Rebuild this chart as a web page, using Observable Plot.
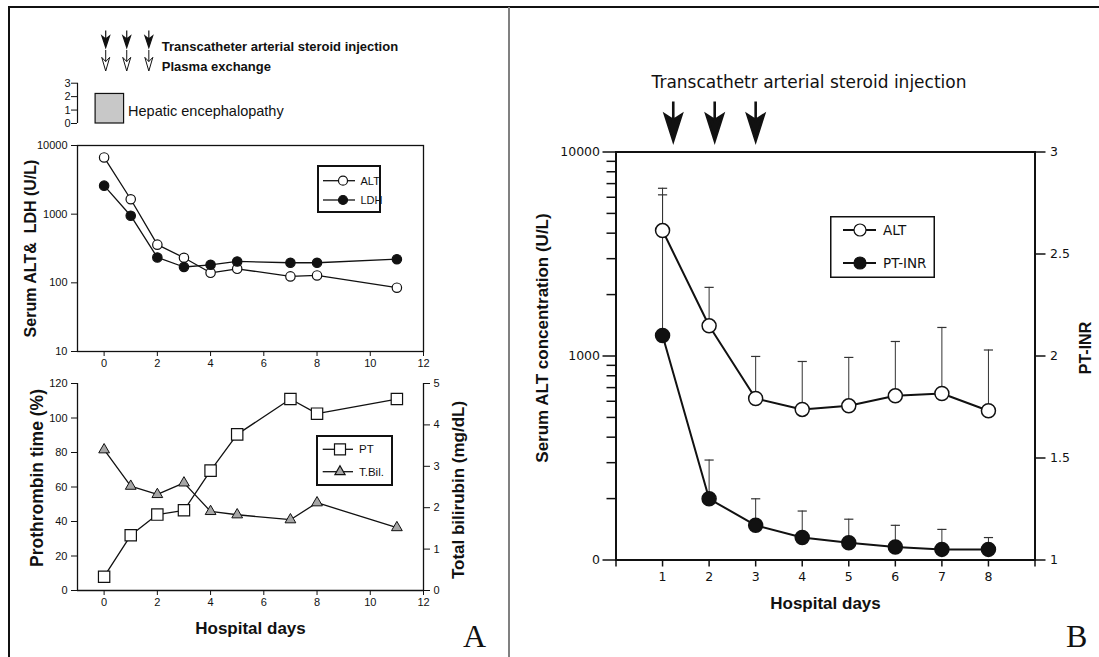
<!DOCTYPE html>
<html><head><meta charset="utf-8">
<script src="https://cdn.jsdelivr.net/npm/d3@7"></script>
<script src="https://cdn.jsdelivr.net/npm/@observablehq/plot@0.6"></script>
<style>
body{margin:0;background:#fff;}
#fig{position:relative;width:1099px;height:657px;overflow:hidden;background:#fff;font-family:"Liberation Sans",Arial,sans-serif;color:#111;}
.letter{position:absolute;font-family:"Liberation Serif","Times New Roman",serif;font-size:32px;line-height:1;color:#111;}
</style></head>
<body><div id="fig"></div>
<script>
// ---------------- DATA ----------------
// Panel A
const daysA = [0, 1, 2, 3, 4, 5, 7, 8, 11];
const altA  = [6700, 1650, 360, 232, 140, 160, 124, 128, 85];
const ldhA  = [2600, 950, 234, 170, 183, 205, 196, 196, 221];
const ptA   = [8, 32, 44, 46.5, 69.5, 90.5, 111, 102.5, 111];
const tbilA = [3.4, 2.52, 2.32, 2.6, 1.91, 1.83, 1.71, 2.12, 1.52];
const xDomainA = [-1, 12];
const xTicksA = [0, 2, 4, 6, 8, 10, 12];
const altTicksA = [10, 100, 1000, 10000];
const ptTicks = [0, 20, 40, 60, 80, 100, 120];
const tbilTicks = [0, 1, 2, 3, 4, 5];
const heGradeTicks = [0, 1, 2, 3];
const heStart = [-0.32], heEnd = [0.75], heGrade = [2.2];
const tasiDaysA = [0.06, 0.85, 1.68];
const plasmaDaysA = [0.06, 0.85, 1.68];
// Panel B
const daysB    = [1, 2, 3, 4, 5, 6, 7, 8];
const altB     = [4120, 1406, 619, 547, 570, 638, 655, 539];
const altTopB  = [6640, 2170, 995, 940, 984, 1178, 1380, 1070];
const inrB     = [2.10, 1.30, 1.17, 1.11, 1.085, 1.064, 1.052, 1.052];
const inrTopB  = [2.79, 1.49, 1.30, 1.24, 1.20, 1.17, 1.15, 1.11];
const xDomainB = [0, 9];
const xTicksB = [0, 1, 2, 3, 4, 5, 6, 7, 8, 9];
const altMajorB = [100, 1000, 10000];
const altMajorLabelsB = ["0", "1000", "10000"];
const altMinorB = [200, 300, 400, 500, 600, 700, 800, 900, 2000, 3000, 4000, 5000, 6000, 7000, 8000, 9000];
const inrTicksB = [1, 1.5, 2, 2.5, 3];
const tasiDaysB = [1.23, 2.12, 3.0];

// ---------------- HELPERS ----------------
const fig = document.getElementById("fig");
function put(el, left, top) {
  el.style.position = "absolute"; el.style.left = left + "px"; el.style.top = top + "px";
  fig.appendChild(el); return el;
}
const ink = "#111";
function arrowSymbol({headW, headTop, notch, shaftEnd}) {
  return {draw(ctx, size) {
    const r = Math.sqrt(size / Math.PI);
    ctx.moveTo(0, -r); ctx.lineTo(0, shaftEnd * r);
    ctx.moveTo(0, r);
    ctx.lineTo(-headW * r, headTop * r);
    ctx.lineTo(0, notch * r);
    ctx.lineTo(headW * r, headTop * r);
    ctx.closePath();
  }};
}
const solidArrowA = arrowSymbol({headW: 0.45, headTop: -0.35, notch: 0.0, shaftEnd: 0.1});
const openArrowA  = arrowSymbol({headW: 0.38, headTop: -0.3, notch: 0.1, shaftEnd: 0.1});
const solidArrowB = arrowSymbol({headW: 0.42, headTop: -0.32, notch: -0.05, shaftEnd: 0.1});
const capSymbol = {draw(ctx, size) { const r = Math.sqrt(size / Math.PI); ctx.moveTo(-r, 0); ctx.lineTo(r, 0); }};

function legend({width, height, rows, x1, x2, mx, tx, fontSize, fontFamily, border}) {
  const svg = d3.create("svg").attr("width", width).attr("height", height).style("overflow", "visible");
  svg.append("rect").attr("x", border / 2).attr("y", border / 2)
    .attr("width", width - border).attr("height", height - border)
    .attr("fill", "white").attr("stroke", ink).attr("stroke-width", border);
  for (const row of rows) {
    const g = svg.append("g").attr("transform", `translate(0,${row.y})`);
    g.append("line").attr("x1", x1).attr("x2", x2).attr("stroke", ink).attr("stroke-width", row.sw);
    g.append("path").attr("transform", `translate(${mx},0)`)
      .attr("d", d3.symbol(row.symbol, row.size)()).attr("fill", row.fill)
      .attr("stroke", ink).attr("stroke-width", 1.2);
    g.append("text").attr("x", tx).attr("dy", "0.36em").attr("font-size", fontSize)
      .attr("font-family", fontFamily).attr("fill", ink).text(row.label);
  }
  return svg.node();
}

const styleA = {fontFamily: '"Liberation Sans", Arial, sans-serif', fontSize: "11px", color: ink, background: "transparent", overflow: "visible"};
const styleB = {fontFamily: '"DejaVu Sans", "Liberation Sans", sans-serif', fontSize: "12.5px", color: ink, background: "transparent", overflow: "visible"};
const boldFont = '"Liberation Sans", Arial, sans-serif';

// ---------------- PANEL A: annotations + hepatic encephalopathy ----------------
const heRows = heStart.map((s, i) => ({start: s, end: heEnd[i], grade: heGrade[i]}));
const chartHE = Plot.plot({
  width: 508, height: 130, marginLeft: 77, marginRight: 85, marginTop: 4, marginBottom: 7,
  x: {domain: xDomainA, axis: null}, y: {domain: [0, 8.86]},
  style: styleA,
  marks: [
    Plot.ruleX([xDomainA[0]], {y1: heGradeTicks[0], y2: heGradeTicks[heGradeTicks.length - 1], stroke: ink, strokeWidth: 1.2}),
    Plot.axisY({ticks: heGradeTicks, tickSize: 6, tickPadding: 1, label: null, fontSize: 11}),
    Plot.rect(heRows, {x1: "start", x2: "end", y1: 0, y2: "grade", fill: "#c8c8c8", stroke: ink, strokeWidth: 1.2}),
    Plot.text(heRows, {x: "end", frameAnchor: "bottom", dy: -8, dx: 4, text: () => "Hepatic encephalopathy", textAnchor: "start", fontSize: 14.5}),
    Plot.dot(tasiDaysA, {x: d => d, frameAnchor: "top", dy: 34.5, symbol: solidArrowA, r: 8.5, fill: ink, stroke: ink, strokeWidth: 1.2}),
    Plot.dot(plasmaDaysA, {x: d => d, frameAnchor: "top", dy: 56, symbol: openArrowA, r: 10.5, fill: "white", stroke: ink, strokeWidth: 1}),
    Plot.text(["Transcatheter arterial steroid injection"], {x: () => tasiDaysA[tasiDaysA.length - 1], frameAnchor: "top", dy: 37, dx: 13, textAnchor: "start", fontWeight: "bold", fontSize: 13}),
    Plot.text(["Plasma exchange"], {x: () => plasmaDaysA[plasmaDaysA.length - 1], frameAnchor: "top", dy: 57, dx: 13, textAnchor: "start", fontWeight: "bold", fontSize: 13})
  ]
});
put(chartHE, 0, 0);

// ---------------- PANEL A: ALT & LDH ----------------
const tableA = daysA.map((d, i) => ({day: d, alt: altA[i], ldh: ldhA[i], pt: ptA[i], tbil: tbilA[i]}));
const chartA1 = Plot.plot({
  width: 508, height: 262, marginLeft: 77, marginRight: 85, marginTop: 25, marginBottom: 31,
  x: {domain: xDomainA}, y: {type: "log", domain: [altTicksA[0], altTicksA[altTicksA.length - 1]]},
  style: styleA,
  marks: [
    Plot.frame({stroke: ink, strokeWidth: 1.3}),
    Plot.axisY({ticks: altTicksA, tickFormat: d => String(d), tickSize: 6, tickPadding: 4, label: null}),
    Plot.axisX({ticks: xTicksA, tickSize: 5, tickPadding: 3, label: null}),
    Plot.text(["Serum ALT&\u00a0 LDH (U/L)"], {frameAnchor: "left", dx: -47, rotate: -90, textAnchor: "middle", lineAnchor: "middle", fontWeight: "bold", fontSize: 16, fontFamily: boldFont}),
    Plot.line(tableA, {x: "day", y: "alt", stroke: ink, strokeWidth: 1.3}),
    Plot.line(tableA, {x: "day", y: "ldh", stroke: ink, strokeWidth: 1.3}),
    Plot.dot(tableA, {x: "day", y: "alt", r: 4.7, fill: "white", stroke: ink, strokeWidth: 1.2}),
    Plot.dot(tableA, {x: "day", y: "ldh", r: 4.7, fill: ink, stroke: ink, strokeWidth: 1.2})
  ]
});
put(chartA1, 0, 120);

// ---------------- PANEL A: PT & T.Bil ----------------
const k = ptTicks[ptTicks.length - 1] / tbilTicks[tbilTicks.length - 1];
const chartA2 = Plot.plot({
  width: 508, height: 287, marginLeft: 77, marginRight: 85, marginTop: 13, marginBottom: 67,
  x: {domain: xDomainA}, y: {domain: [ptTicks[0], ptTicks[ptTicks.length - 1]]},
  style: styleA,
  marks: [
    Plot.ruleX(xDomainA, {stroke: ink, strokeWidth: 1.3}),
    Plot.ruleY([ptTicks[0]], {stroke: ink, strokeWidth: 1.3}),
    Plot.axisY({ticks: ptTicks, tickSize: 6, tickPadding: 4, label: null}),
    Plot.axisY({anchor: "right", ticks: tbilTicks.map(t => t * k), tickFormat: d => String(d / k), tickSize: 6, tickPadding: 4, label: null}),
    Plot.axisX({ticks: xTicksA, tickSize: 5, tickPadding: 3, label: null}),
    Plot.text(["Prothrombin time (%)"], {frameAnchor: "left", dx: -40, dy: -9, rotate: -90, textAnchor: "middle", lineAnchor: "middle", fontWeight: "bold", fontSize: 17.5, fontFamily: boldFont}),
    Plot.text(["Total bilirubin (mg/dL)"], {frameAnchor: "right", dx: 35, dy: 3, rotate: -90, textAnchor: "middle", lineAnchor: "middle", fontWeight: "bold", fontSize: 17, fontFamily: boldFont}),
    Plot.text(["Hospital days"], {frameAnchor: "bottom", dy: 38, textAnchor: "middle", lineAnchor: "middle", fontWeight: "bold", fontSize: 17, fontFamily: boldFont}),
    Plot.line(tableA, {x: "day", y: d => d.tbil * k, stroke: ink, strokeWidth: 1.3}),
    Plot.line(tableA, {x: "day", y: "pt", stroke: ink, strokeWidth: 1.3}),
    Plot.dot(tableA, {x: "day", y: d => d.tbil * k, symbol: "triangle", r: 4, fill: "#a6a6a6", stroke: ink, strokeWidth: 1}),
    Plot.dot(tableA, {x: "day", y: "pt", symbol: "square", r: 6.4, fill: "white", stroke: ink, strokeWidth: 1.2})
  ]
});
put(chartA2, 0, 370);

// Legends panel A
put(legend({width: 64, height: 48, border: 2, x1: 6, x2: 38, mx: 26, tx: 43.5, fontSize: 11, fontFamily: boldFont,
  rows: [
    {y: 15.7, label: "ALT", symbol: d3.symbolCircle, size: Math.PI * 4.5 * 4.5, fill: "white", sw: 1.3},
    {y: 35, label: "LDH", symbol: d3.symbolCircle, size: Math.PI * 4.5 * 4.5, fill: ink, sw: 1.3}
  ]}), 317, 165);
put(legend({width: 77, height: 51, border: 2, x1: 6.7, x2: 37, mx: 24, tx: 43, fontSize: 11.5, fontFamily: boldFont,
  rows: [
    {y: 14.3, label: "PT", symbol: d3.symbolSquare, size: 121, fill: "white", sw: 1.3},
    {y: 36.7, label: "T.Bil.", symbol: d3.symbolTriangle, size: 45, fill: "#a6a6a6", sw: 1.3}
  ]}), 316, 435);

// ---------------- PANEL B ----------------
const altLo = altMajorB[0];
const altPos = v => Math.log10(v) - Math.log10(altLo);
const inrPos = v => v - inrTicksB[0];
const tableB = daysB.map((d, i) => ({day: d, alt: altB[i], altTop: altTopB[i], inr: inrB[i], inrTop: inrTopB[i]}));
const chartB = Plot.plot({
  width: 579, height: 657, marginLeft: 95.5, marginRight: 64.5, marginTop: 151.5, marginBottom: 97.5,
  x: {domain: xDomainB}, y: {domain: [altPos(altMajorB[0]), altPos(altMajorB[altMajorB.length - 1])]},
  style: styleB,
  marks: [
    Plot.frame({stroke: ink, strokeWidth: 2}),
    Plot.axisY({ticks: altMinorB.map(altPos), tickFormat: () => "", tickSize: 9, strokeWidth: 1.5, label: null}),
    Plot.axisY({ticks: altMajorB.map(altPos), tickFormat: (d, i) => altMajorLabelsB[i], tickSize: 13, tickPadding: 3, strokeWidth: 1.5, label: null}),
    Plot.axisY({anchor: "right", ticks: inrTicksB.map(inrPos), tickFormat: (d, i) => String(inrTicksB[i]), tickSize: 10, tickPadding: 5, strokeWidth: 1.5, label: null}),
    Plot.axisX({ticks: xTicksB, tickFormat: d => (d >= daysB[0] && d <= daysB[daysB.length - 1]) ? String(d) : "", tickSize: 7, tickPadding: 5, strokeWidth: 1.5, label: null}),
    Plot.text(["Serum ALT concentration (U/L)"], {frameAnchor: "left", dx: -73.5, dy: -18, rotate: -90, textAnchor: "middle", lineAnchor: "middle", fontWeight: "bold", fontSize: 17, fontFamily: boldFont}),
    Plot.text(["PT-INR"], {frameAnchor: "right", dx: 50.5, dy: -8, rotate: -90, textAnchor: "middle", lineAnchor: "middle", fontWeight: "bold", fontSize: 16, fontFamily: boldFont}),
    Plot.text(["Hospital days"], {frameAnchor: "bottom", dy: 44, textAnchor: "middle", lineAnchor: "middle", fontWeight: "bold", fontSize: 17, fontFamily: boldFont}),
    Plot.text(["Transcathetr arterial steroid injection"], {frameAnchor: "top", dy: -69.5, dx: -16.5, textAnchor: "middle", lineAnchor: "middle", fontSize: 17}),
    Plot.dot(tasiDaysB, {x: d => d, frameAnchor: "top", dy: -31, symbol: solidArrowB, r: 19.6, fill: ink, stroke: ink, strokeWidth: 2.6}),
    // error bars
    Plot.ruleX(tableB, {x: "day", y1: d => altPos(d.alt), y2: d => altPos(d.altTop), stroke: "#333", strokeWidth: 1}),
    Plot.dot(tableB, {x: "day", y: d => altPos(d.altTop), symbol: capSymbol, r: 4.6, stroke: "#333", strokeWidth: 1.2}),
    Plot.ruleX(tableB, {x: "day", y1: d => inrPos(d.inr), y2: d => inrPos(d.inrTop), stroke: "#333", strokeWidth: 1}),
    Plot.dot(tableB, {x: "day", y: d => inrPos(d.inrTop), symbol: capSymbol, r: 4.6, stroke: "#333", strokeWidth: 1.2}),
    // series
    Plot.line(tableB, {x: "day", y: d => altPos(d.alt), stroke: ink, strokeWidth: 2}),
    Plot.line(tableB, {x: "day", y: d => inrPos(d.inr), stroke: ink, strokeWidth: 2}),
    Plot.dot(tableB, {x: "day", y: d => altPos(d.alt), r: 7, fill: "white", stroke: ink, strokeWidth: 1.5}),
    Plot.dot(tableB, {x: "day", y: d => inrPos(d.inr), r: 7, fill: ink, stroke: ink, strokeWidth: 1.5})
  ]
});
put(chartB, 520, 0);

put(legend({width: 105, height: 62, border: 1.5, x1: 13, x2: 46, mx: 30, tx: 53, fontSize: 13.5, fontFamily: '"DejaVu Sans", sans-serif',
  rows: [
    {y: 14, label: "ALT", symbol: d3.symbolCircle, size: Math.PI * 6 * 6, fill: "white", sw: 2},
    {y: 47, label: "PT-INR", symbol: d3.symbolCircle, size: Math.PI * 6 * 6, fill: ink, sw: 2}
  ]}), 830, 216);

// ---------------- frame, divider, panel letters ----------------
const border = document.createElement("div");
border.style.cssText = "width:1091px;height:651px;border-top:2px solid #111;border-left:2px solid #111;box-sizing:border-box;pointer-events:none;";
put(border, 8, 6);
const divider = document.createElement("div");
divider.style.cssText = "width:2px;height:650px;background:#808080;";
put(divider, 508, 7);
const la = document.createElement("div"); la.className = "letter"; la.textContent = "A"; put(la, 463, 620);
const lb = document.createElement("div"); lb.className = "letter"; lb.textContent = "B"; put(lb, 1066, 620);
</script>
</body></html>
